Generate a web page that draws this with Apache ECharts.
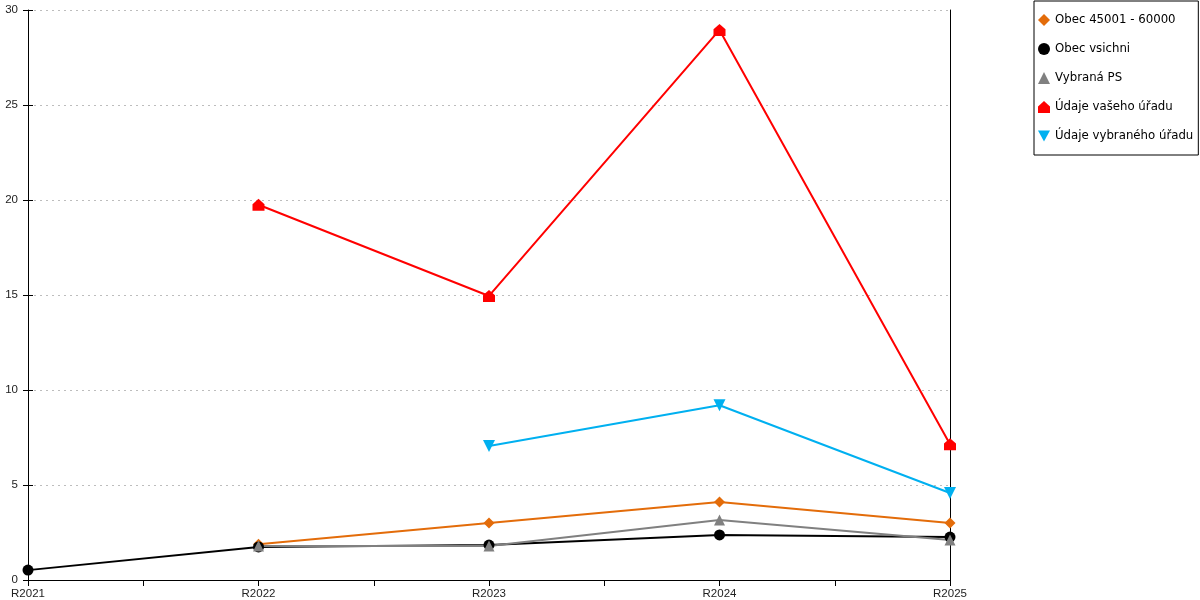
<!DOCTYPE html>
<html>
<head>
<meta charset="utf-8">
<script src="https://cdn.jsdelivr.net/npm/echarts@6/dist/echarts.min.js"></script>
<style>
html, body { margin: 0; padding: 0; background: #fff; }
#chart { width: 1200px; height: 600px; }
</style>
</head>
<body>
<div id="chart"></div>
<script>
// years on the x axis
var categories = ['R2021', 'R2022', 'R2023', 'R2024', 'R2025'];

// series values (null = no value)
var obec45001 = [null, 1.88, 3.0, 4.1, 3.0];
var obecVsichni = [0.52, 1.74, 1.84, 2.37, 2.26];
var vybranaPS = [null, 1.79, 1.79, 3.16, 2.1];
var udajeVaseho = [null, 19.75, 14.95, 28.95, 7.15];
var udajeVybraneho = [null, null, 7.05, 9.2, 4.58];

var yTicks = [0, 5, 10, 15, 20, 25, 30];

var houseSymbol = 'path://M5,0 L10,4.5 L10,10 L0,10 L0,4.5 Z';
var downTriangle = 'path://M0,0 L10,0 L5,9 Z';

function toPairs(values) {
    return values.map(function (v, i) {
        return [i, v == null ? '-' : v];
    });
}

function makeSeries(name, values, color, symbol, size) {
    return {
        name: name,
        type: 'line',
        data: toPairs(values),
        symbol: symbol,
        symbolSize: size,
        showAllSymbol: true,
        lineStyle: { color: color, width: 2 },
        itemStyle: { color: color },
        emphasis: { disabled: true },
        animation: false
    };
}

var axisFont = 'Liberation Sans';

var chart = echarts.init(document.getElementById('chart'));

chart.setOption({
    backgroundColor: '#fff',
    textStyle: { fontFamily: 'DejaVu Sans' },
    grid: { left: 28, right: 250, top: 10, bottom: 20 },
    legend: {
        orient: 'vertical',
        left: 1034,
        top: 1,
        padding: [13, 5, 13, 4],
        itemWidth: 12,
        itemHeight: 12,
        itemGap: 17,
        borderColor: '#000',
        borderWidth: 1,
        backgroundColor: '#fff',
        textStyle: { color: '#000', fontSize: 11.75, fontFamily: 'DejaVu Sans' },
        data: [
            { name: 'Obec 45001 - 60000', icon: 'diamond' },
            { name: 'Obec vsichni', icon: 'circle' },
            { name: 'Vybraná PS', icon: 'triangle' },
            { name: 'Údaje vašeho úřadu', icon: houseSymbol },
            { name: 'Údaje vybraného úřadu', icon: downTriangle }
        ]
    },
    xAxis: {
        type: 'value',
        min: 0,
        max: categories.length - 1,
        interval: 0.5,
        axisLine: { show: true, lineStyle: { color: '#000', width: 1 } },
        axisTick: { show: true, length: 6, lineStyle: { color: '#000' } },
        splitLine: { show: false },
        axisLabel: {
            color: '#222',
            fontSize: 11.5,
            fontFamily: axisFont,
            margin: 8,
            showMinLabel: true,
            showMaxLabel: true,
            formatter: function (v) {
                return Number.isInteger(v) ? categories[v] : '';
            }
        }
    },
    yAxis: [
        {
            type: 'value',
            min: yTicks[0],
            max: yTicks[yTicks.length - 1],
            interval: yTicks[1] - yTicks[0],
            position: 'left',
            axisLine: { show: true, lineStyle: { color: '#000', width: 1 } },
            axisTick: { show: true, length: 5, lineStyle: { color: '#000' } },
            axisLabel: { color: '#222', fontSize: 11.5, fontFamily: axisFont, margin: 10 },
            splitLine: { show: true, lineStyle: { color: '#bdbdbd', type: [2, 4], width: 1 } }
        },
        {
            // inner half of the crossing ticks
            type: 'value',
            min: yTicks[0],
            max: yTicks[yTicks.length - 1],
            interval: yTicks[1] - yTicks[0],
            position: 'left',
            axisLine: { show: false },
            axisTick: { show: true, inside: true, length: 5, lineStyle: { color: '#000' } },
            axisLabel: { show: false },
            splitLine: { show: false }
        },
        {
            // right frame line
            type: 'value',
            min: yTicks[0],
            max: yTicks[yTicks.length - 1],
            position: 'right',
            axisLine: { show: true, lineStyle: { color: '#000', width: 1 } },
            axisTick: { show: false },
            axisLabel: { show: false },
            splitLine: { show: false }
        }
    ],
    series: [
        makeSeries('Obec 45001 - 60000', obec45001, '#e36c0a', 'diamond', 11),
        makeSeries('Obec vsichni', obecVsichni, '#000000', 'circle', 11),
        makeSeries('Vybraná PS', vybranaPS, '#808080', 'triangle', 11),
        makeSeries('Údaje vašeho úřadu', udajeVaseho, '#ff0000', houseSymbol, 12),
        makeSeries('Údaje vybraného úřadu', udajeVybraneho, '#00b0f0', downTriangle, 12)
    ]
});
</script>
</body>
</html>
